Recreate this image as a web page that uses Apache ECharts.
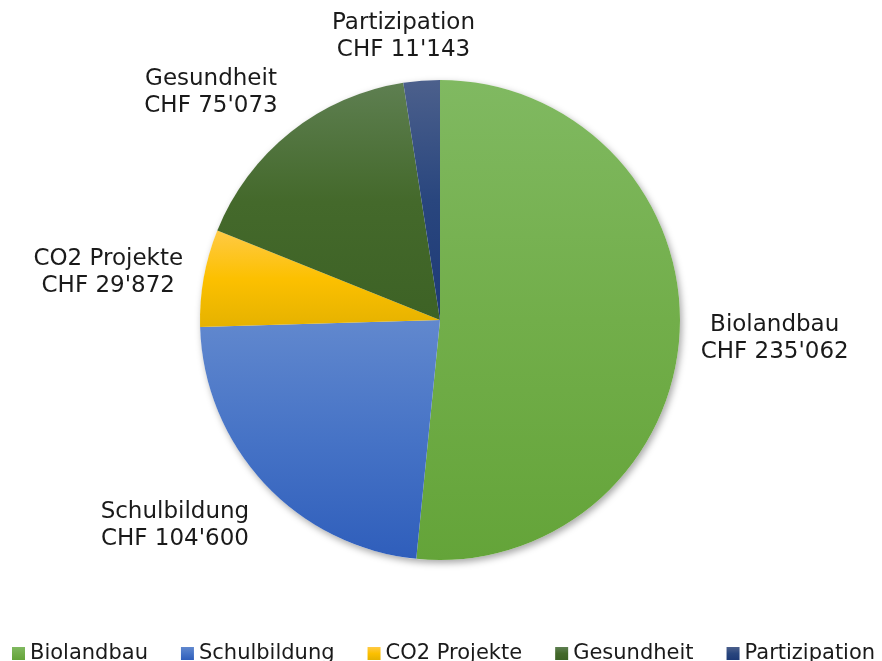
<!DOCTYPE html>
<html>
<head>
<meta charset="utf-8">
<script src="https://cdn.jsdelivr.net/npm/echarts@6/dist/echarts.min.js"></script>
<style>html,body{margin:0;padding:0;background:#fff}#c{width:882px;height:661px}</style>
</head>
<body>
<div id="c"></div>
<script>
const categories = ['Biolandbau', 'Schulbildung', 'CO2 Projekte', 'Gesundheit', 'Partizipation'];
const values = [235062, 104600, 29872, 75073, 11143];
const colorsTop = ['#80b961', '#6188ce', '#ffca45', '#5e7f51', '#4c608c'];
const colorsMid = ['#72ae4a', '#4673c6', '#fcc000', '#44692b', '#29467e'];
const colorsBottom = ['#64a439', '#2f5ebb', '#e5b200', '#3d6225', '#1e3a76'];

const CX = 440, CY = 320, R = 240, GAP = 21;
const total = values.reduce((a, b) => a + b, 0);
const mids = [];
let acc = 0;
values.forEach(v => { mids.push((acc + v / 2) / total * 2 * Math.PI); acc += v; });

function fmt(v) {
  return String(v).replace(/\B(?=(\d{3})+(?!\d))/g, "'");
}
function grad(i) {
  return new echarts.graphic.LinearGradient(0, 0, 0, 1, [
    { offset: 0, color: colorsTop[i] },
    { offset: 0.5, color: colorsMid[i] },
    { offset: 1, color: colorsBottom[i] }
  ]);
}
const clamp = t => Math.max(-1, Math.min(1, t));

const chart = echarts.init(document.getElementById('c'), null, { renderer: 'canvas' });
chart.setOption({
  animation: false,
  backgroundColor: '#ffffff',
  legend: {
    data: categories,
    left: 7,
    top: 638,
    itemWidth: 13,
    itemHeight: 13,
    itemGap: 33,
    itemStyle: { shadowBlur: 0 },
    textStyle: { fontFamily: 'DejaVu Sans', fontSize: 21, color: '#1a1a1a', padding: [2, 0, 0, 0] },
    icon: 'rect'
  },
  series: [
    {
      type: 'pie',
      silent: true,
      center: [CX, CY],
      radius: R,
      startAngle: 90,
      label: { show: false },
      labelLine: { show: false },
      itemStyle: { color: '#ffffff', shadowBlur: 7, shadowOffsetX: 2, shadowOffsetY: 3, shadowColor: 'rgba(0,0,0,0.35)' },
      data: [{ name: '_bg', value: total }],
      z: 1
    },
    {
      type: 'pie',
      center: [CX, CY],
      radius: R,
      startAngle: 90,
      clockwise: true,
      avoidLabelOverlap: false,
      z: 2,
      data: categories.map((c, i) => ({ name: c, value: values[i], itemStyle: { color: grad(i) } })),
      itemStyle: { borderWidth: 0 },
      label: {
        show: true,
        position: 'outside',
        fontFamily: 'DejaVu Sans',
        fontSize: 23,
        lineHeight: 27,
        color: '#1a1a1a',
        formatter: p => p.name + '\nCHF ' + fmt(p.value)
      },
      labelLine: { show: false },
      labelLayout: function (p) {
        const a = mids[p.dataIndex];
        const dx = Math.sin(a), dy = -Math.cos(a);
        const ax = CX + dx * (R + GAP), ay = CY + dy * (R + GAP);
        const w = p.labelRect.width, h = p.labelRect.height;
        return {
          x: ax + clamp(dx * 3) * w / 2,
          y: ay + clamp(dy * 1.3) * h / 2 + 4,
          align: 'center',
          verticalAlign: 'middle'
        };
      }
    }
  ]
});
</script>
</body>
</html>
